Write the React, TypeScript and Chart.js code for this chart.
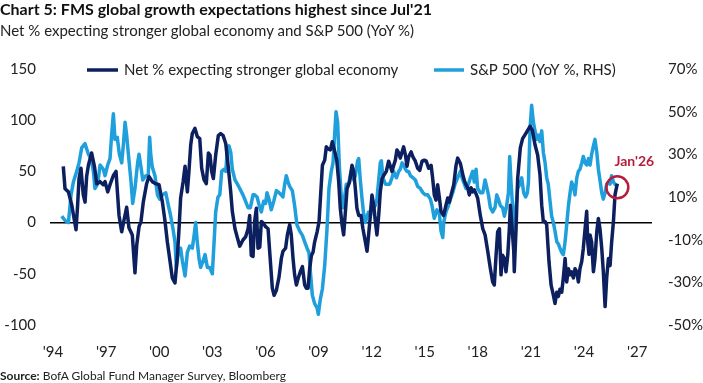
import React, { useEffect, useRef } from "react";
import { Chart, registerables } from "chart.js";

Chart.register(...registerables);

// ---------- DATA ----------
const netLabel = "Net % expecting stronger global economy";
const spxLabel = "S&P 500 (YoY %, RHS)";
const annotationLabel = "Jan'26";

const xTickYears = [1994, 1997, 2000, 2003, 2006, 2009, 2012, 2015, 2018, 2021, 2024, 2027];
const xTickLabels = ["'94", "'97", "'00", "'03", "'06", "'09", "'12", "'15", "'18", "'21", "'24", "'27"];

// Net % expecting stronger global economy (dates as decimal years)
const netYears = [
  1994.58, 1994.68, 1994.87, 1995.06, 1995.21, 1995.3, 1995.39, 1995.47, 1995.58, 1995.71, 1995.81, 1995.9,
  1996.0, 1996.18, 1996.34, 1996.47, 1996.66, 1996.84, 1996.94, 1997.09, 1997.22, 1997.41, 1997.56, 1997.65, 1997.73, 1997.88,
  1998.03, 1998.16, 1998.29, 1998.48, 1998.63, 1998.73, 1998.86, 1998.97, 1999.1, 1999.29,
  1999.42, 1999.61, 1999.8, 1999.99, 2000.18, 2000.33, 2000.46, 2000.59, 2000.74, 2000.89, 2001.03, 2001.12, 2001.21, 2001.35, 2001.46, 2001.59, 2001.68, 2001.78, 2001.87,
  2002.02, 2002.15, 2002.29, 2002.4, 2002.53, 2002.66, 2002.78, 2002.87, 2002.96, 2003.06, 2003.19, 2003.34, 2003.47, 2003.61, 2003.76, 2003.91, 2004.04, 2004.13, 2004.28, 2004.42, 2004.55,
  2004.73, 2004.88, 2005.02, 2005.11, 2005.2, 2005.3, 2005.39, 2005.49, 2005.58, 2005.68, 2005.77, 2005.86, 2006.01, 2006.15, 2006.24, 2006.39, 2006.49, 2006.62, 2006.77, 2006.9, 2006.99,
  2007.14, 2007.24, 2007.37, 2007.46, 2007.56, 2007.65, 2007.75, 2007.84, 2007.97, 2008.09, 2008.22, 2008.31, 2008.41, 2008.5, 2008.6, 2008.69, 2008.78, 2008.92,
  2009.03, 2009.12, 2009.22, 2009.35, 2009.44, 2009.54, 2009.67, 2009.78, 2009.91, 2010.03,
  2010.14, 2010.23, 2010.33, 2010.42, 2010.52, 2010.61, 2010.76, 2010.89, 2010.99, 2011.08, 2011.17, 2011.27, 2011.4, 2011.51, 2011.65, 2011.74, 2011.83, 2011.93,
  2012.02, 2012.12, 2012.21, 2012.3, 2012.4, 2012.49, 2012.59, 2012.68, 2012.83, 2012.96, 2013.06, 2013.15, 2013.25, 2013.34, 2013.43, 2013.53, 2013.62, 2013.72, 2013.81, 2013.91,
  2014.0, 2014.09, 2014.23, 2014.34, 2014.47, 2014.6, 2014.72, 2014.85, 2014.98, 2015.09, 2015.22,
  2015.36, 2015.45, 2015.54, 2015.64, 2015.73, 2015.83, 2015.92, 2016.07, 2016.2, 2016.3, 2016.39, 2016.49, 2016.64, 2016.77, 2016.86, 2017.01, 2017.15, 2017.24, 2017.33, 2017.43, 2017.52, 2017.62, 2017.71, 2017.8, 2017.9, 2017.99,
  2018.14, 2018.28, 2018.41, 2018.56, 2018.71, 2018.84, 2018.93, 2019.03, 2019.12, 2019.22, 2019.31, 2019.4, 2019.5, 2019.59, 2019.69, 2019.78, 2019.84, 2019.91, 2020.03, 2020.06, 2020.16, 2020.25, 2020.4, 2020.53, 2020.67, 2020.78,
  2020.95, 2021.08, 2021.23, 2021.38, 2021.51, 2021.61, 2021.7, 2021.8, 2021.89, 2021.95, 2022.02, 2022.14, 2022.27, 2022.36, 2022.46, 2022.55, 2022.64, 2022.74, 2022.83, 2022.93,
  2023.02, 2023.12, 2023.21, 2023.3, 2023.4, 2023.49, 2023.59, 2023.68, 2023.77, 2023.87, 2023.96, 2024.06, 2024.15, 2024.21, 2024.28, 2024.34, 2024.43, 2024.53, 2024.62, 2024.72, 2024.81, 2024.9,
  2025.0, 2025.09, 2025.19, 2025.28, 2025.38, 2025.47, 2025.56, 2025.66, 2025.75, 2025.88,
];
const netValues = [
  55, 33, 30, 17, 2, -7, 17, 43, 53, 27, 20, 45,
  56, 68, 55, 38, 40, 37, 40, 30, 37, 46, 50, 27, 7, -9,
  4, 15, -5, -12, -49, -22, -4, 1, 20, 38,
  45, 40, 38, 37, 20, 1, -19, -35, -54, -59, -32, -6, 24, 40, 55, 30, 50, 76, 87,
  92, 84, 82, 53, 42, 38, 68, 66, 50, 43, 66, 85, 87, 85, 77, 53, 30, 11, -6, -15, -23,
  -17, -14, -6, 7, -32, -33, 1, 14, -25, -24, 1, 0, -4, -6, -28, -64, -71, -66, -53, -35, -28,
  -25, -12, -2, -12, -35, -51, -61, -55, -48, -43, -61, -64, -64, -45, -32, -29, -19, -9,
  1, 27, 56, 61, 74, 72, 71, 79, 70, 61,
  40, 14, -2, -12, 11, 33, 40, 56, 50, 33, 14, 7, 7, -6, -19, -28, -12, 7,
  27, 17, 1, -12, 7, 30, 43, 46, 50, 60, 55, 50, 56, 61, 71, 68, 63, 69, 74, 66,
  55, 64, 69, 64, 60, 53, 51, 60, 61, 60, 53,
  56, 43, 27, 22, 37, 24, 11, 7, 17, 24, 20, 27, 37, 56, 63, 58, 47, 41, 37, 34, 27, 34, 30, 32, 28, 24,
  7, -6, -12, -28, -45, -58, -61, -32, -9, -6, -51, -32, -35, -48, -32, -6, 17, 1, -28, -48, -6, 43, 73, 82, 86, 89,
  94, 90, 76, 66, 47, 17, 1, 1, -2, -19, -38, -61, -71, -79, -68, -72, -65, -68, -54, -35,
  -58, -45, -51, -48, -54, -45, -48, -58, -45, -38, -25, -6, 11, -19, -31, -12, -19, -48, -35, -9, 4, -6,
  -25, -48, -82, -54, -35, -42, -19, 1, 27, 38,
];

// S&P 500 YoY % (right axis)
const spxYears = [
  1994.49, 1994.68, 1994.87, 1995.02, 1995.15, 1995.34, 1995.47, 1995.62, 1995.81,
  1996.0, 1996.15, 1996.28, 1996.37, 1996.52, 1996.66, 1996.84, 1996.94, 1997.09, 1997.22, 1997.31, 1997.41, 1997.5, 1997.63, 1997.75, 1997.88, 1997.97,
  1998.07, 1998.16, 1998.26, 1998.41, 1998.5, 1998.63, 1998.78, 1998.86, 1998.97, 1999.07, 1999.24, 1999.38,
  1999.46, 1999.52, 1999.61, 1999.76, 1999.9, 2000.03, 2000.18, 2000.37, 2000.52, 2000.65, 2000.78, 2000.89, 2000.97, 2001.08, 2001.21, 2001.31, 2001.46, 2001.59, 2001.72, 2001.87, 2001.97,
  2002.06, 2002.15, 2002.25, 2002.34, 2002.48, 2002.59, 2002.72, 2002.85, 2003.0, 2003.1, 2003.19, 2003.32, 2003.42, 2003.53, 2003.66, 2003.76, 2003.85, 2003.94, 2004.04, 2004.13, 2004.28, 2004.42, 2004.55,
  2004.73, 2004.88, 2005.02, 2005.15, 2005.3, 2005.39, 2005.53, 2005.68, 2005.77, 2005.9, 2006.01, 2006.09, 2006.2, 2006.33, 2006.47, 2006.62, 2006.77, 2006.9, 2006.99,
  2007.09, 2007.18, 2007.28, 2007.37, 2007.52, 2007.65, 2007.78, 2007.94, 2008.09, 2008.22, 2008.35, 2008.46, 2008.54, 2008.65, 2008.78, 2008.92, 2008.99,
  2009.1, 2009.22, 2009.35, 2009.48, 2009.59, 2009.72, 2009.82, 2009.91, 2009.99, 2010.08, 2010.18, 2010.28, 2010.38, 2010.46, 2010.57, 2010.7, 2010.84, 2010.99,
  2011.08, 2011.21, 2011.27, 2011.36, 2011.46, 2011.55, 2011.65, 2011.74, 2011.83, 2011.93, 2012.02, 2012.12, 2012.21, 2012.3, 2012.4, 2012.49, 2012.55, 2012.64, 2012.78, 2012.87,
  2013.02, 2013.15, 2013.25, 2013.4, 2013.53, 2013.62, 2013.72, 2013.81, 2013.91, 2014.0, 2014.09, 2014.19, 2014.34, 2014.47, 2014.6, 2014.75, 2014.9, 2015.04, 2015.17, 2015.32, 2015.41,
  2015.54, 2015.69, 2015.83, 2015.92, 2016.02, 2016.07, 2016.2, 2016.34, 2016.45, 2016.58, 2016.71, 2016.86, 2017.01, 2017.15, 2017.24, 2017.33, 2017.47, 2017.58, 2017.71, 2017.8, 2017.9, 2017.99,
  2018.14, 2018.28, 2018.41, 2018.52, 2018.6, 2018.71, 2018.84, 2018.97, 2019.07, 2019.16, 2019.27, 2019.4, 2019.5, 2019.61, 2019.73, 2019.8, 2019.88, 2019.97, 2020.06, 2020.16, 2020.25, 2020.37, 2020.48, 2020.59, 2020.7, 2020.8, 2020.86,
  2020.95, 2021.04, 2021.14, 2021.23, 2021.33, 2021.42, 2021.51, 2021.61, 2021.7, 2021.8, 2021.89, 2021.98, 2022.08, 2022.17, 2022.27, 2022.36, 2022.46, 2022.55, 2022.64, 2022.74, 2022.83, 2022.93,
  2023.02, 2023.12, 2023.21, 2023.3, 2023.4, 2023.49, 2023.59, 2023.68, 2023.77, 2023.87, 2023.96, 2024.06, 2024.15, 2024.25, 2024.34, 2024.43, 2024.53, 2024.62, 2024.72, 2024.81, 2024.9,
  2025.0, 2025.09, 2025.19, 2025.28, 2025.38, 2025.47, 2025.56, 2025.66, 2025.75, 2025.88,
];
const spxValues = [
  1, -1, -2, 11, 17, 22, 26, 33, 35,
  30, 28, 22, 14, 16, 25, 23, 20, 25, 28, 39, 49, 37, 38, 30, 26, 34,
  45, 39, 30, 17, 7, 14, 26, 30, 24, 18, 20, 20,
  38, 30, 24, 20, 11, 9, 11, 12, 6, 1, -5, -11, -23, -16, -14, -20, -27, -16, -13, -14, -8,
  -2, -11, -19, -23, -20, -17, -23, -23, -26, -11, 3, 10, 11, 22, 23, 22, 32, 34, 31, 23, 18, 16, 14,
  11, 8, 5, 5, 11, 11, 10, 5, 3, 8, 7, 12, 9, 4, 8, 13, 12, 11, 10,
  16, 20, 17, 15, 13, 6, -3, -6, -8, -11, -14, -16, -25, -36, -40, -42, -45,
  -38, -33, -22, -5, 14, 22, 26, 39, 50, 45, 24, 11, 5, 9, 16, 16, 22, 18,
  20, 27, 28, 18, 9, 2, -2, 1, 3, 1, 8, 5, 6, 9, 18, 26, 27, 19, 16, 16,
  16, 19, 22, 19, 22, 23, 26, 25, 23, 22, 22, 20, 19, 18, 15, 14, 12, 11, 11, 9, 6,
  0, 4, 2, -6, -9, -2, 3, 6, 9, 12, 16, 19, 22, 18, 16, 14, 16, 19, 22, 17, 23, 14,
  12, 12, 18, 14, 11, 5, 3, 5, 11, 9, 6, 5, 1, 5, 12, 29, 16, 5, -8, 5, 14, 16, 19, 12, 10, 12, 17,
  42, 53, 45, 41, 37, 39, 36, 41, 31, 26, 19, 16, 8, 1, -2, -6, -11, -12, -14, -16, -17, -11,
  -3, 6, 12, 17, 15, 11, 19, 22, 23, 26, 29, 26, 25, 28, 25, 30, 34, 37, 31, 23, 18,
  12, 9, 12, 16, 17, 16, 20, 17, 16, 15,
];

const leftTicks = { min: -100, max: 150, step: 50 };
const rightTicks = { min: -50, max: 70, step: 20 };

// ---------- STYLE ----------
const NAVY = "#0c1f5e";
const LIGHT = "#1f9fdc";
const RED = "#b71c3c";
const TEXT = "#222222";
const FONT = "Lato";

const legendPlugin = {
  id: "inlineLegend",
  afterDraw(chart: any) {
    const { ctx, chartArea } = chart;
    const y = chartArea.top + 1;
    const items = [
      { x1: 87, x2: 118, tx: 124, color: NAVY, text: chart.data.datasets[0].label },
      { x1: 434, x2: 464, tx: 470, color: LIGHT, text: chart.data.datasets[1].label },
    ];
    ctx.save();
    ctx.font = `15px ${FONT}`;
    ctx.textBaseline = "middle";
    ctx.textAlign = "left";
    items.forEach((it) => {
      ctx.strokeStyle = it.color;
      ctx.lineWidth = 3.5;
      ctx.beginPath();
      ctx.moveTo(it.x1, y);
      ctx.lineTo(it.x2, y);
      ctx.stroke();
      ctx.fillStyle = TEXT;
      ctx.fillText(it.text, it.tx, y);
    });
    ctx.restore();
  },
};

const annotationPlugin = {
  id: "lastPointAnnotation",
  afterDatasetsDraw(chart: any) {
    const meta = chart.getDatasetMeta(1);
    const pt = meta.data[meta.data.length - 1];
    if (!pt) return;
    const { ctx } = chart;
    ctx.save();
    ctx.strokeStyle = RED;
    ctx.lineWidth = 2.5;
    ctx.beginPath();
    ctx.arc(pt.x, pt.y + 1, 11, 0, Math.PI * 2);
    ctx.stroke();
    ctx.fillStyle = RED;
    ctx.font = `bold 14px ${FONT}`;
    ctx.textAlign = "center";
    ctx.textBaseline = "middle";
    ctx.fillText(annotationLabel, pt.x + 17, pt.y - 25);
    ctx.restore();
  },
};

export default function App() {
  const ref = useRef<HTMLCanvasElement | null>(null);

  useEffect(() => {
    if (!ref.current) return;
    const netData = netYears.map((x, i) => ({ x, y: netValues[i] }));
    const spxData = spxYears.map((x, i) => ({ x, y: spxValues[i] }));

    const chart = new Chart(ref.current, {
      type: "line",
      data: {
        datasets: [
          {
            label: netLabel,
            data: netData,
            borderColor: NAVY,
            backgroundColor: NAVY,
            borderWidth: 3.5,
            pointRadius: 0,
            tension: 0,
            yAxisID: "y",
            borderJoinStyle: "round",
          },
          {
            label: spxLabel,
            data: spxData,
            borderColor: LIGHT,
            backgroundColor: LIGHT,
            borderWidth: 3.5,
            pointRadius: 0,
            tension: 0,
            yAxisID: "y1",
            borderJoinStyle: "round",
          },
        ],
      },
      options: {
        responsive: false,
        animation: false,
        layout: { padding: { top: 69, bottom: 20, left: 0, right: 0 } },
        plugins: {
          legend: { display: false },
          tooltip: { enabled: false },
          title: { display: false },
        },
        scales: {
          x: {
            type: "linear",
            min: 1993.83,
            max: 2027.84,
            grid: { display: false, drawTicks: false },
            border: { display: false },
            afterBuildTicks: (axis: any) => {
              axis.ticks = xTickYears.map((v) => ({ value: v }));
            },
            afterFit: (axis: any) => {
              axis.height = 38;
            },
            ticks: {
              autoSkip: false,
              maxRotation: 0,
              padding: 18,
              color: TEXT,
              font: { family: FONT, size: 15 },
              callback: (v: any) => {
                const i = xTickYears.indexOf(Number(v));
                return i >= 0 ? xTickLabels[i] : "";
              },
            },
          },
          y: {
            position: "left",
            min: leftTicks.min,
            max: leftTicks.max,
            border: { display: false },
            grid: {
              drawTicks: false,
              lineWidth: 1.5,
              color: (c: any) => (c.tick && c.tick.value === 0 ? "#000000" : "rgba(0,0,0,0)"),
            },
            afterFit: (axis: any) => {
              axis.width = 50;
            },
            ticks: {
              stepSize: leftTicks.step,
              padding: 14,
              color: TEXT,
              font: { family: FONT, size: 15 },
            },
          },
          y1: {
            position: "right",
            min: rightTicks.min,
            max: rightTicks.max,
            border: { display: false },
            grid: { display: false, drawTicks: false },
            afterFit: (axis: any) => {
              axis.width = 51;
            },
            ticks: {
              stepSize: rightTicks.step,
              padding: 16,
              color: TEXT,
              font: { family: FONT, size: 15 },
              callback: (v: any) => `${v}%`,
            },
          },
        },
      },
      plugins: [legendPlugin, annotationPlugin],
    } as any);
    return () => chart.destroy();
  }, []);

  return (
    <div
      style={{
        position: "absolute",
        left: 0,
        top: 0,
        width: 703,
        height: 383,
        background: "#ffffff",
        overflow: "hidden",
        fontFamily: FONT,
        color: TEXT,
      }}
    >
      <canvas ref={ref} width={703} height={383} style={{ position: "absolute", left: 0, top: 0, width: 703, height: 383 }} />
      <div
        style={{
          position: "absolute",
          left: 0,
          top: 0,
          fontSize: 16,
          lineHeight: "18px",
          fontWeight: 700,
          color: "#111",
          whiteSpace: "nowrap",
        }}
      >
        Chart 5: FMS global growth expectations highest since Jul'21
      </div>
      <div
        style={{
          position: "absolute",
          left: 0,
          top: 21,
          fontSize: 15,
          lineHeight: "18px",
          color: TEXT,
          whiteSpace: "nowrap",
        }}
      >
        Net % expecting stronger global economy and S&amp;P 500 (YoY %)
      </div>
      <div
        style={{
          position: "absolute",
          left: 0,
          top: 369,
          fontSize: 12,
          lineHeight: "14px",
          color: TEXT,
          whiteSpace: "nowrap",
        }}
      >
        <b>Source:</b> BofA Global Fund Manager Survey, Bloomberg
      </div>
    </div>
  );
}
